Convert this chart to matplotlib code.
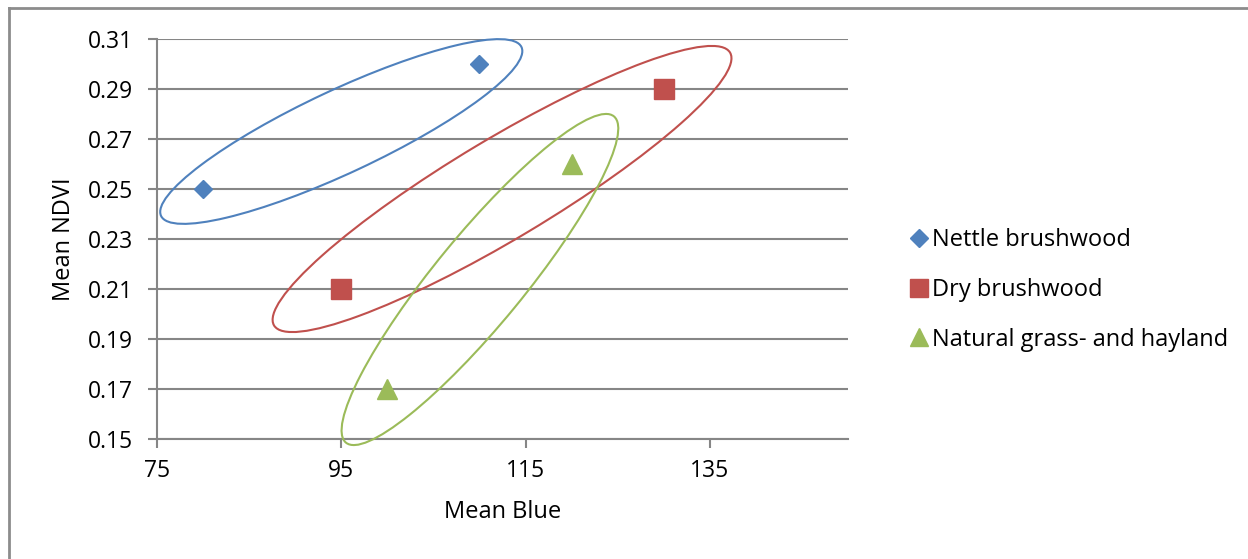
import matplotlib.pyplot as plt
from matplotlib.patches import Ellipse
from matplotlib.transforms import ScaledTranslation
from matplotlib.lines import Line2D

plt.rcParams['font.family'] = ['Open Sans', 'DejaVu Sans']

# mean values per land cover class
series = ['Nettle brushwood', 'Dry brushwood', 'Natural grass- and hayland']
blue_vals = [[80, 110], [95, 130], [100, 120]]
ndvi_vals = [[0.25, 0.30], [0.21, 0.29], [0.17, 0.26]]
colors = ['#4F81BD', '#C0504D', '#9BBB59']
markers = ['D', 's', '^']
msizes = [9.5, 15, 15]

x_ticks = [75, 95, 115, 135]
y_ticks = [0.15, 0.17, 0.19, 0.21, 0.23, 0.25, 0.27, 0.29, 0.31]

# outline ellipses round each class: centre (data), semi axes (inches), angle
ell_centres = [(95.0, 0.273), (112.45, 0.250), (110.05, 0.2138)]
ell_axes = [(1.99, 0.414), (2.657, 0.501), (2.111, 0.446)]
ell_angles = [25.1, 30.9, 50.6]

W, H = 1248, 559
fig = plt.figure(figsize=(W / 100, H / 100), dpi=100)
ax = fig.add_axes([157 / W, 1 - 439 / H, (848 - 157) / W, 400 / H])

grid_c = '#868686'
for i, name in enumerate(series):
    ax.plot(blue_vals[i], ndvi_vals[i], linestyle='none', marker=markers[i],
            markersize=msizes[i], color=colors[i], label=name, zorder=4,
            clip_on=False)

for (cx, cy), (a, b), ang, c in zip(ell_centres, ell_axes, ell_angles, colors):
    tr = fig.dpi_scale_trans + ScaledTranslation(cx, cy, ax.transData)
    e = Ellipse((0, 0), 2 * a, 2 * b, angle=ang, transform=tr,
                fill=False, edgecolor=c, linewidth=1.5, zorder=3,
                clip_on=False)
    ax.add_patch(e)

ax.set_xlim(75, 150)
ax.set_ylim(0.15, 0.31)
ax.set_xticks(x_ticks)
ax.set_yticks(y_ticks)
ax.set_yticklabels(['%.2f' % v for v in y_ticks])
ax.yaxis.grid(True, color=grid_c, linewidth=1.5)
ax.set_axisbelow(True)
for s in ['top', 'right']:
    ax.spines[s].set_visible(False)
for s in ['left', 'bottom']:
    ax.spines[s].set_color(grid_c)
    ax.spines[s].set_linewidth(1.5)
ax.tick_params(axis='both', colors=grid_c, length=6.5, width=1.5,
               labelsize=16.5, labelcolor='black')
ax.tick_params(axis='x', pad=8)
ax.tick_params(axis='y', pad=11)

ax.set_xlabel('Mean Blue', fontsize=17, labelpad=12)
ax.set_ylabel('Mean NDVI', fontsize=17, labelpad=8)

handles = [Line2D([], [], linestyle='none', marker=m, markersize=ms * 0.85,
                  color=c) for m, ms, c in zip(markers, msizes, colors)]
handles[0].set_markersize(9)
fig.legend(handles, series, loc='center left',
           bbox_to_anchor=(897 / W, 1 - 290 / H), frameon=False,
           fontsize=17, handletextpad=0.0, handlelength=1.1,
           labelspacing=1.08, borderaxespad=0)

# chart area border
fig.add_artist(Line2D([9 / W, 1], [1 - 8 / H, 1 - 8 / H], color='#8C8C8C',
                      linewidth=2, transform=fig.transFigure))
fig.add_artist(Line2D([9 / W, 9 / W], [0, 1 - 8 / H], color='#8C8C8C',
                      linewidth=2, transform=fig.transFigure))

fig.savefig('out.png', dpi=100)
